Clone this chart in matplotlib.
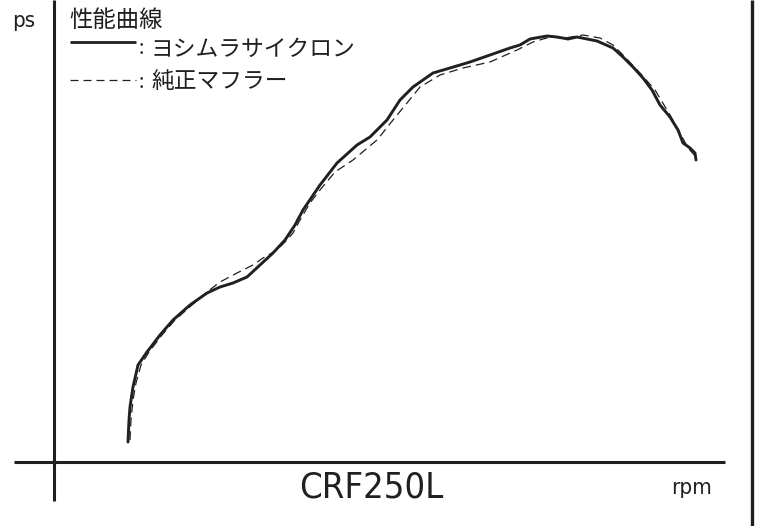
import matplotlib
matplotlib.use("Agg")
import matplotlib.pyplot as plt

# ---- data (x: rpm position, y: ps above baseline) ----
yoshimura_rpm = [128, 129, 130, 133, 138, 147, 160, 173, 190, 207, 220, 233, 247, 260, 273, 285,
                 295, 303, 320, 337, 357, 370, 387, 400, 413, 433, 450, 470, 490, 510, 520, 530,
                 547, 557, 568, 577, 597, 613, 623, 633, 643, 652, 660, 670, 678, 683, 690, 695, 696]
yoshimura_ps = [20, 42, 55, 75, 97, 110, 127, 142, 157, 169, 175, 179, 185, 197, 209, 222,
                237, 252, 277, 299, 317, 325, 342, 362, 375, 389, 394, 400, 407, 414, 417, 423,
                426, 425, 423, 425, 421, 414, 405, 395, 384, 372, 357, 345, 332, 319, 314, 309, 302]

stock_rpm = [130, 131, 133, 136, 141, 149, 162, 175, 192, 207, 220, 237, 253, 263, 277, 287,
             293, 300, 310, 320, 335, 353, 377, 393, 407, 420, 440, 463, 490, 517, 533, 550,
             565, 583, 600, 613, 625, 640, 655, 670, 680, 688, 697]
stock_ps = [22, 42, 62, 79, 97, 110, 127, 142, 157, 170, 180, 189, 197, 204, 212, 222,
            229, 242, 259, 272, 290, 302, 322, 342, 359, 375, 387, 394, 400, 412, 420, 425,
            424, 427, 424, 417, 405, 389, 372, 347, 329, 314, 304]

title_text = "性能曲線"
legend_labels = ["ヨシムラサイクロン", "純正マフラー"]
model_text = "CRF250L"
x_unit = "rpm"
y_unit = "ps"

INK = "#231f20"
W, H = 758, 526
BASE = 462  # pixel row of the rpm axis

fig = plt.figure(figsize=(W / 100, H / 100), dpi=100)
ax = fig.add_axes([0, 0, 1, 1])
ax.set_xlim(0, W)
ax.set_ylim(BASE - H, BASE)
ax.axis("off")

def py(p):
    return BASE - p

# frame lines
ax.plot([14, 725], [0, 0], color=INK, lw=2.2, solid_capstyle="butt")
ax.plot([54, 54], [py(501), py(0)], color=INK, lw=2.2, solid_capstyle="butt")
ax.plot([752, 752], [py(526), py(0)], color=INK, lw=2.4, solid_capstyle="butt")

# curves
ax.plot(stock_rpm, stock_ps, color=INK, lw=0.9, ls=(0, (7, 4)))
ax.plot(yoshimura_rpm, yoshimura_ps, color=INK, lw=2.1,
        solid_joinstyle="round", solid_capstyle="round")

cjk = ["Noto Sans CJK JP", "DejaVu Sans"]
lat = dict(family="DejaVu Sans", stretch="condensed")

ax.text(12, py(21), y_unit, fontsize=16, va="center", ha="left", color=INK, **lat)
ax.text(69, py(20), title_text, fontsize=16.8, va="center", ha="left", color=INK, family=cjk)

# legend lines
ax.plot([70, 136], [py(42), py(42)], color=INK, lw=2.0, solid_capstyle="butt")
ax.plot([70, 136], [py(80), py(80)], color=INK, lw=0.9, ls=(0, (6.4, 4)))
ax.text(139, py(49), ":", fontsize=14, va="center", ha="left", color=INK, family=cjk)
ax.text(139, py(82), ":", fontsize=14, va="center", ha="left", color=INK, family=cjk)
ax.text(151, py(49), legend_labels[0], fontsize=16.4, va="center", ha="left", color=INK, family=cjk)
ax.text(151, py(82), legend_labels[1], fontsize=16.4, va="center", ha="left", color=INK, family=cjk)

ax.text(371, py(488), model_text, fontsize=26, va="center", ha="center", color=INK, **lat)
ax.text(692, py(488), x_unit, fontsize=16, va="center", ha="center", color=INK, **lat)

fig.savefig("out.png", dpi=100, facecolor="white")
